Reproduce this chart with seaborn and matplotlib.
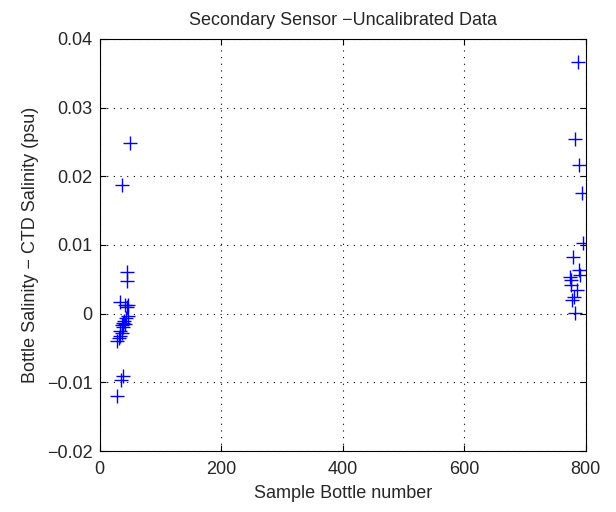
"""Secondary sensor salinity residuals vs bottle number"""
import matplotlib
matplotlib.use('Agg')
import matplotlib.pyplot as plt
import numpy as np
import pandas as pd
import seaborn as sns

# left cluster (early stations)
bottle_a = [36, 49, 44, 44, 34, 42, 47, 45, 46, 43, 40, 38, 42, 36, 39, 34, 37, 33, 31, 29, 38, 35, 28]
resid_a = [0.0187, 0.0248, 0.0060, 0.0048, 0.0017, 0.0013, 0.0013, 0.0010, -0.0003, -0.0007,
           -0.0010, -0.0013, -0.0015, -0.0017, -0.0020, -0.0025, -0.0028, -0.0032, -0.0035,
           -0.0040, -0.0090, -0.0097, -0.0120]

# right cluster (late stations)
bottle_b = [787, 782, 788, 793, 795, 779, 788, 774, 791, 776, 775, 785, 781, 778, 783]
resid_b = [0.0367, 0.0254, 0.0217, 0.0175, 0.0103, 0.0083, 0.0063, 0.0054, 0.0057, 0.0049,
           0.0042, 0.0035, 0.0025, 0.0020, 0.0001]

df = pd.DataFrame({'bottle': bottle_a + bottle_b, 'resid': resid_a + resid_b})

sns.set_style('ticks')
plt.rcParams['font.family'] = ['Liberation Sans', 'DejaVu Sans']
plt.rcParams['axes.unicode_minus'] = True

fig = plt.figure(figsize=(6.16, 5.12), dpi=100)
ax = fig.add_axes([0.162, 0.119, 0.789, 0.805])

sns.scatterplot(data=df, x='bottle', y='resid', marker='+', s=110, color='#0000ff',
                linewidth=1.0, ax=ax, legend=False)

ax.set_xlim(0, 800)
ax.set_ylim(-0.02, 0.04)
ax.set_xticks([0, 200, 400, 600, 800])
ax.set_yticks(np.arange(-0.02, 0.041, 0.01))
ax.set_yticklabels(['\u22120.02', '\u22120.01', '0', '0.01', '0.02', '0.03', '0.04'])
ax.grid(True, color='black', linestyle=(0, (1, 5)), linewidth=0.8)
ax.tick_params(direction='in', length=4, labelsize=13, top=True, right=True, color='black')
ax.tick_params(axis='x', pad=7)
ax.tick_params(axis='y', pad=5)
for sp in ax.spines.values():
    sp.set_visible(True)
    sp.set_color('black')
    sp.set_linewidth(0.8)

ax.set_xlabel('Sample Bottle number', fontsize=13, labelpad=5)
ax.set_ylabel('Bottle Salinity \u2212 CTD Salinity (psu)', fontsize=13, labelpad=6)
ax.set_title('Secondary Sensor \u2212Uncalibrated Data', fontsize=13, pad=10)

fig.savefig('out.png', dpi=100)
